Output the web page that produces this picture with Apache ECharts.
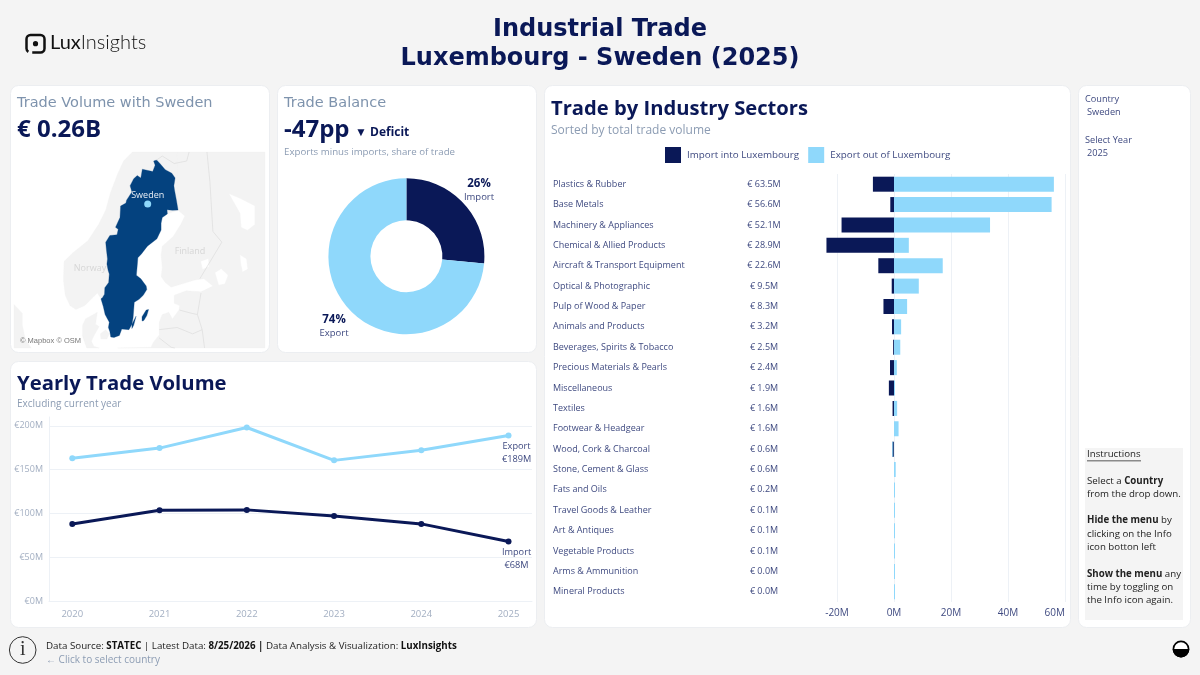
<!DOCTYPE html>
<html lang="en">
<head>
<meta charset="utf-8">
<title>Industrial Trade Luxembourg - Sweden (2025)</title>
<script src="https://cdn.jsdelivr.net/npm/echarts@6/dist/echarts.min.js"></script>
<style>
  html, body { margin: 0; padding: 0; background: #f4f4f4; }
  #main { width: 1200px; height: 675px; }
</style>
</head>
<body>
<div id="main"></div>
<script>
// yearly trade volume, in millions of euro
var years = [2020, 2021, 2022, 2023, 2024, 2025];
var yearlyExport = [163, 174.5, 198, 160.5, 172, 189];
var yearlyImport = [88, 103.5, 104, 97, 88, 68];
var yearlyTicks = [0, 50, 100, 150, 200];

// balance donut
var shareNames = ['Import', 'Export'];
var shareValues = [68, 189];

// sectors, in millions of euro (imports drawn to the left of zero)
var sectors = ['Plastics & Rubber', 'Base Metals', 'Machinery & Appliances', 'Chemical & Allied Products',
  'Aircraft & Transport Equipment', 'Optical & Photographic', 'Pulp of Wood & Paper', 'Animals and Products',
  'Beverages, Spirits & Tobacco', 'Precious Materials & Pearls', 'Miscellaneous', 'Textiles',
  'Footwear & Headgear', 'Wood, Cork & Charcoal', 'Stone, Cement & Glass', 'Fats and Oils',
  'Travel Goods & Leather', 'Art & Antiques', 'Vegetable Products', 'Arms & Ammunition', 'Mineral Products'];
var sectorTotals = [63.5, 56.6, 52.1, 28.9, 22.6, 9.5, 8.3, 3.2, 2.5, 2.4, 1.9, 1.6, 1.6, 0.6, 0.6, 0.2, 0.1, 0.1, 0.1, 0.0, 0.0];
var sectorImport = [-7.4, -1.3, -18.4, -23.7, -5.5, -0.8, -3.7, -0.7, -0.3, -1.4, -1.8, -0.5, 0, -0.6, 0, 0, 0, 0, 0, 0, 0];
var sectorExport = [56.1, 55.3, 33.7, 5.2, 17.1, 8.7, 4.6, 2.5, 2.2, 1.0, 0.1, 1.1, 1.6, 0, 0.6, 0.2, 0.1, 0.1, 0.1, 0.02, 0.02];
var sectorTicks = [-20, 0, 20, 40, 60];

// map outlines, lon / lat
var swedenOutline = [[20.55,69.06],[21.1,68.85],[22,68.47],[23.1,68.25],[23.65,67.95],[23.45,67.45],[23.55,67.17],[23.85,66.55],[24.15,65.82],
  [23.2,65.8],[22.3,65.85],[22.35,65.55],[21.5,65.3],[21.3,64.9],[21.3,64.4],[20.6,63.75],[19,63.2],[18,62.6],[17.4,62.3],[17.3,61.7],
  [17.15,60.9],[17.9,60.6],[18.8,60],[18.9,59.7],[18.3,59.2],[17.6,58.85],[16.8,58.6],[16.7,57.9],[16.6,57.2],[16.4,56.6],[15.9,56.1],
  [14.7,56.15],[14.3,55.55],[13.4,55.35],[12.85,55.4],[12.7,55.9],[12.45,56.3],[12.6,56.8],[11.9,57.5],[11.6,58.2],[11.2,58.9],
  [11.45,59],[11.8,59.3],[11.85,59.85],[12.5,60.3],[12.6,61],[12.4,61.3],[12.2,61.8],[12.3,62.2],[12.1,63],[12,63.5],
  [12.7,64],[13.9,64.05],[14.1,64.45],[13.65,64.6],[14.4,65.3],[14.5,66.1],[15.4,66.3],[15.5,66.5],[16.4,67.05],[16.1,67.45],[16.7,67.9],
  [17.3,68.1],[17.9,67.95],[18.15,68.5],[19.9,68.35],[20.3,68.75],[20.05,69]];
var gotlandOutline = [[18.1,56.9],[18.1,57.3],[18.8,57.9],[19.2,57.95],[18.9,57.4],[18.4,56.95]];
var olandOutline = [[16.4,56.2],[16.4,56.6],[17.1,57.35],[16.7,56.5]];
var norwayOutline = [[16.5,69.54],[15,69],[14,68.2],[12.8,67],[12,65.8],[10.8,64.8],[9,63.6],[6.5,62.7],[5,62],[4.9,60.5],[5.2,59.2],[6,58.3],
  [7,57.95],[8.5,58.3],[9.8,59],[10.6,59.4],[11.1,59],[11.5,59],[14,60],[18,65],[24.2,65.8],[24,69.54]];
var eastOutline = [[24,69.54],[24.15,65.82],[25.3,65.4],[24.6,64.8],[23.3,63.9],[21.5,63.2],[21.3,62.5],[21.5,61.5],[21.3,60.8],[22,60.3],[23,59.9],
  [25,60.2],[27,60.5],[28.5,60.6],[30,60],[28,59.5],[25.5,59.6],[23.5,59.2],[23.5,58.5],[24.4,58.3],[24.3,57.9],[23.2,57.1],[22.6,57.7],
  [21.5,57.5],[21,56.8],[21,55.6],[20,54.9],[19.6,54.4],[14,54.33],[38.75,54.33],[38.75,69.54]];
var jutlandOutline = [[8.8,54.33],[8.1,55.5],[8.1,56.5],[8.6,57.1],[10.6,57.7],[10.3,56.6],[10.9,56.4],[10,55.5],[9.6,55],[10,54.5],[10.9,54.33]];
var zealandOutline = [[11.1,55.7],[12,56.1],[12.6,55.7],[12.2,55.2],[11.2,55.2]];
var scotlandOutline = [[-3.4,58.4],[-2,57.6],[-2,56.5],[-1.5,55.2],[-0.5,54.33],[-3.4,54.33]];
var whiteSeaOutline = [[32.8,66.9],[34.6,66.6],[37,66.1],[37,64.8],[35.8,64.4],[34.8,64.6],[34.6,65.6]];
var ladogaOutline = [[30.4,61.1],[31.4,61.4],[32.5,60.9],[32,60.2],[31,60.1]];
var onegaOutline = [[34.6,62.5],[35.6,62.2],[35.8,61.4],[35,61.2],[34.7,61.9]];
var saimaaOutline = [[28,62],[29.2,62.2],[29.3,61.6],[28.3,61.4]];
var finnRussiaBorder = [[29,69.54],[29.5,67.7],[30,64.3],[31.5,63.5],[27.8,60.6]];
var finnNorwayBorder = [[20.55,69.06],[21.5,69.3],[23.5,68.85],[25.6,69],[26,69.54]];
var estoniaBorders = [[28,59.4],[27.4,57.5],[28.2,56.1],[28.6,54.33]];
var latviaBorder = [[24.4,57.9],[26.5,57.6],[27.4,57.5]];
var lithuaniaBorder = [[21,56.1],[24,56.3],[26.6,55.7],[28.2,56.1]];
var polandBorder = [[21,55.3],[23,54.4],[23.6,54.33]];
var swedenPoint = [19.05, 66.24];

var NAVY = '#0a1857', SKY = '#8fd8fb', INK = '#3f4a80', MUTED = '#8c9cb3', AXIS = '#a3afc2', RULE = '#edf1f6';
var SANS = '"Open Sans", sans-serif', DEJA = '"DejaVu Sans", sans-serif';

function mercator(lat) {
  return Math.log(Math.tan(Math.PI / 4 + lat * Math.PI / 360)) * 180 / Math.PI;
}
function poly(name, rings) {
  return { type: 'Feature', properties: { name: name }, geometry: { type: 'MultiPolygon', coordinates: rings.map(function (r) { return [r]; }) } };
}
echarts.registerMap('nordic', {
  type: 'FeatureCollection',
  features: [
    poly('Land', [norwayOutline, eastOutline, jutlandOutline, zealandOutline, scotlandOutline]),
    poly('Water', [whiteSeaOutline, ladogaOutline, onegaOutline, saimaaOutline]),
    poly('Sweden', [swedenOutline, gotlandOutline, olandOutline])
  ]
});

function txt(x, y, text, size, fill, opts) {
  opts = opts || {};
  var style = { x: x, y: y + 1, text: text, fontSize: size, fill: fill, fontFamily: opts.font || SANS,
    fontWeight: opts.weight || 'normal', align: opts.align || 'left', verticalAlign: 'middle' };
  if (opts.rich) style.rich = opts.rich;
  return { type: 'text', z: 5, silent: true, style: style };
}
function card(x, y, w, h) {
  return { type: 'rect', z: -5, silent: true, shape: { x: x, y: y, width: w, height: h, r: 8 },
    style: { fill: '#fff', stroke: '#eceef1', lineWidth: 1 } };
}
function boldRich(color, size) {
  return { b: { fontWeight: 'bold', fontSize: size, fill: color, color: color, fontFamily: SANS },
           n: { fontSize: size, fill: color, color: color, fontFamily: SANS } };
}

var chrome = [
  card(10.5, 85.5, 259, 267), card(277.5, 85.5, 259, 267), card(10.5, 361.5, 526, 266),
  card(544.5, 85.5, 526, 542), card(1078.5, 85.5, 112, 542),

  // logo
  { type: 'rect', z: 5, silent: true, shape: { x: 26.5, y: 35, width: 18, height: 17.5, r: 4 }, style: { fill: 'none', stroke: '#111', lineWidth: 2.5, lineDash: [40, 4, 24, 4] } },
  { type: 'circle', z: 5, silent: true, shape: { cx: 35.5, cy: 43.7, r: 2.6 }, style: { fill: '#111' } },
  txt(50, 42, '{a|Lux}{c|Insights}', 20, '#111', { font: 'Lato', rich: {
    a: { fontFamily: 'Lato', fontSize: 20, color: '#111', fontWeight: 'normal' },
    c: { fontFamily: 'Lato', fontSize: 20, color: '#333', fontWeight: 300 } } }),

  // heading
  txt(600, 29, 'Industrial Trade', 24, NAVY, { font: DEJA, weight: 'bold', align: 'center' }),
  txt(600, 58, 'Luxembourg - Sweden (2025)', 24, NAVY, { font: DEJA, weight: 'bold', align: 'center' }),

  // kpi cards
  txt(17, 102, 'Trade Volume with Sweden', 14.5, '#7e93ad', { font: DEJA }),
  txt(17, 129, '€ 0.26B', 24, NAVY, { weight: 'bold' }),
  txt(284, 102, 'Trade Balance', 14.5, '#7e93ad', { font: DEJA }),
  txt(284, 129, '-47pp', 24, NAVY, { weight: 'bold' }),
  txt(355, 132, '▼ Deficit', 12, NAVY, { weight: 'bold' }),
  txt(284, 151, 'Exports minus imports, share of trade', 9.7, MUTED),

  // map labels
  txt(90, 267, 'Norway', 9, '#d6d6d6', { align: 'center' }),
  txt(190, 250, 'Finland', 9, '#d6d6d6', { align: 'center' }),
  txt(20, 340, '© Mapbox © OSM', 7.5, '#777', { font: '"Liberation Sans", sans-serif' }),

  // line card
  txt(17, 383, 'Yearly Trade Volume', 20.3, NAVY, { weight: 'bold' }),
  txt(17, 403, 'Excluding current year', 10, MUTED),

  // sector card
  txt(551, 108, 'Trade by Industry Sectors', 20.2, NAVY, { weight: 'bold' }),
  txt(551, 130, 'Sorted by total trade volume', 12, MUTED),

  // side menu
  txt(1085, 98, 'Country', 9.2, INK),
  txt(1087, 111, 'Sweden', 9.2, INK),
  txt(1085, 139, 'Select Year', 9.2, INK),
  txt(1087, 152, '2025', 9.2, INK),
  { type: 'rect', z: -4, silent: true, shape: { x: 1085, y: 448, width: 98, height: 172 }, style: { fill: '#f4f4f4' } },
  txt(1087, 453.5, 'Instructions', 9.7, '#222'),
  { type: 'rect', z: 5, silent: true, shape: { x: 1087, y: 460.5, width: 54, height: 0.8 }, style: { fill: '#222' } },
  txt(1087, 480, 'Select a {b|Country}', 9.7, '#222', { rich: boldRich('#222', 9.7) }),
  txt(1087, 493, 'from the drop down.', 9.7, '#222'),
  txt(1087, 519.5, '{b|Hide the menu} by', 9.7, '#222', { rich: boldRich('#222', 9.7) }),
  txt(1087, 533, 'clicking on the Info', 9.7, '#222'),
  txt(1087, 546, 'icon botton left', 9.7, '#222'),
  txt(1087, 573, '{b|Show the menu} any', 9.7, '#222', { rich: boldRich('#222', 9.7) }),
  txt(1087, 586, 'time by toggling on', 9.7, '#222'),
  txt(1087, 599.5, 'the Info icon again.', 9.7, '#222'),

  // footer
  { type: 'circle', z: 5, silent: true, shape: { cx: 22.7, cy: 650, r: 13.3 }, style: { fill: 'none', stroke: '#333', lineWidth: 1 } },
  txt(22.7, 649, 'i', 20, '#333', { font: '"Liberation Serif", serif', align: 'center' }),
  txt(46, 645, 'Data Source: {b|STATEC} | Latest Data: {b|8/25/2026 |} Data Analysis & Visualization: {b|LuxInsights}', 9.75, '#222', { rich: boldRich('#111', 9.75) }),
  txt(46, 659, '← Click to select country', 10, MUTED),
  { type: 'circle', z: 5, silent: true, shape: { cx: 1181, cy: 649, r: 7.6 }, style: { fill: '#fff', stroke: '#000', lineWidth: 1.6 } },
  { type: 'sector', z: 5, silent: true, shape: { cx: 1181, cy: 649, r: 8.4, startAngle: 0, endAngle: Math.PI, clockwise: true }, style: { fill: '#000' } }
];

var chart = echarts.init(document.getElementById('main'));
chart.setOption({
  animation: false,
  backgroundColor: '#f4f4f4',
  textStyle: { fontFamily: SANS },
  graphic: chrome,
  legend: {
    data: ['Import into Luxembourg', 'Export out of Luxembourg'],
    left: 660, top: 142, itemWidth: 16, itemHeight: 16, itemGap: 9, selectedMode: false,
    textStyle: { fontSize: 9.8, color: INK, fontFamily: SANS, padding: [3, 0, 0, 1] },
    icon: 'rect'
  },
  geo: {
    map: 'nordic', silent: true,
    left: 14, top: 152, width: 251, height: 196,
    projection: {
      project: function (p) { return [p[0], -mercator(p[1])]; },
      unproject: function (p) { return [p[0], (2 * Math.atan(Math.exp(-p[1] * Math.PI / 180)) - Math.PI / 2) * 180 / Math.PI]; }
    },
    boundingCoords: [[-3.4, 69.54], [38.75, 54.33]],
    label: { show: false },
    itemStyle: { areaColor: '#f3f3f3', borderColor: '#f3f3f3', borderWidth: 0.3 },
    emphasis: { disabled: true },
    regions: [
      { name: 'Water', itemStyle: { areaColor: '#fff', borderColor: '#fff' } },
      { name: 'Sweden', itemStyle: { areaColor: '#04427f', borderColor: '#04427f' } }
    ]
  },
  grid: [
    { left: 49, right: 668, top: 417, bottom: 74 },
    { left: 825.6, right: 135, top: 174, bottom: 73 }
  ],
  xAxis: [
    {
      gridIndex: 0, type: 'value', min: 2019.733, max: 2025.269,
      axisLine: { lineStyle: { color: RULE } }, axisTick: { show: false, customValues: years },
      splitLine: { show: false },
      axisLabel: { customValues: years, color: AXIS, fontSize: 9.5, margin: 8, formatter: function (v) { return String(v); } }
    },
    {
      gridIndex: 1, type: 'value', min: -24, max: 60,
      axisLine: { show: false }, axisTick: { show: false, customValues: sectorTicks },
      splitLine: { show: true, lineStyle: { color: RULE } },
      axisLabel: { customValues: sectorTicks, color: INK, fontSize: 10, margin: 6, alignMaxLabel: 'right',
        formatter: function (v) { return v + 'M'; } }
    }
  ],
  yAxis: [
    {
      gridIndex: 0, type: 'value', min: 0, max: 210,
      axisLine: { show: true, lineStyle: { color: RULE } }, axisTick: { show: false, customValues: yearlyTicks },
      splitLine: { lineStyle: { color: RULE } },
      axisLabel: { customValues: yearlyTicks, color: AXIS, fontSize: 9, margin: 6, formatter: function (v) { return '€' + v + 'M'; } }
    },
    {
      gridIndex: 1, type: 'category', inverse: true, data: sectors,
      axisLine: { show: false }, axisTick: { show: false },
      axisLabel: { interval: 0, align: 'left', margin: 272.6, color: INK, fontSize: 9 }
    },
    {
      gridIndex: 1, type: 'category', inverse: true, position: 'left',
      data: sectorTotals.map(function (v) { return '€ ' + v.toFixed(1) + 'M'; }),
      axisLine: { show: false }, axisTick: { show: false },
      axisLabel: { interval: 0, align: 'center', margin: 61.6, color: INK, fontSize: 9 }
    }
  ],
  series: [
    {
      type: 'map', map: 'nordic', geoIndex: 0, data: []
    },
    {
      type: 'lines', coordinateSystem: 'geo', polyline: true, silent: true,
      lineStyle: { color: '#dcdcdc', width: 0.7, opacity: 1 },
      data: [finnRussiaBorder, finnNorwayBorder, estoniaBorders, latviaBorder, lithuaniaBorder, polandBorder]
        .map(function (c) { return { coords: c }; })
    },
    {
      type: 'scatter', coordinateSystem: 'geo', silent: true, symbolSize: 7,
      itemStyle: { color: SKY, opacity: 1 },
      label: { show: true, position: 'top', distance: 1, formatter: 'Sweden', color: '#e8eef5', fontSize: 9 },
      data: [swedenPoint]
    },
    {
      type: 'pie', center: [406.4, 256.3], radius: [36, 78], startAngle: 90, clockwise: true,
      percentPrecision: 0, silent: true,
      data: shareNames.map(function (n, i) {
        return { name: n, value: shareValues[i], itemStyle: { color: i === 0 ? NAVY : SKY } };
      }),
      label: {
        position: 'outside',
        formatter: function (p) { return '{p|' + p.percent + '%}\n{n|' + p.name + '}'; },
        rich: {
          p: { fontSize: 11.5, fontWeight: 'bold', color: NAVY, fontFamily: SANS, lineHeight: 15 },
          n: { fontSize: 9.5, color: INK, fontFamily: SANS, lineHeight: 13 }
        }
      },
      labelLine: { show: false },
      labelLayout: function (p) {
        return p.dataIndex === 0
          ? { x: 479, y: 190, align: 'center', verticalAlign: 'middle' }
          : { x: 334, y: 326, align: 'center', verticalAlign: 'middle' };
      }
    },
    lineSeries('Export', yearlyExport, SKY, 8),
    lineSeries('Import', yearlyImport, NAVY, 8),
    barSeries('Import into Luxembourg', sectorImport, NAVY, 0),
    barSeries('Export out of Luxembourg', sectorExport, SKY, 1)
  ]
});

function lineSeries(name, values, color, shift) {
  return {
    name: name, type: 'line', xAxisIndex: 0, yAxisIndex: 0,
    data: values.map(function (v, i) { return [years[i], v]; }),
    symbol: 'circle', symbolSize: 6, showSymbol: true, silent: true,
    lineStyle: { color: color, width: 3 }, itemStyle: { color: color },
    label: {
      show: true, position: 'bottom', distance: 2, offset: [shift, 0], color: INK, fontSize: 9.2, lineHeight: 12.5, align: 'center',
      formatter: function (p) {
        return p.dataIndex === values.length - 1 ? name + '\n€' + values[p.dataIndex] + 'M' : '';
      }
    }
  };
}
function barSeries(name, values, color, minPx) {
  return {
    name: name, type: 'bar', xAxisIndex: 1, yAxisIndex: 1, stack: 'trade', data: values,
    barWidth: 15, barMinHeight: minPx, silent: true, itemStyle: { color: color }
  };
}
</script>
</body>
</html>
